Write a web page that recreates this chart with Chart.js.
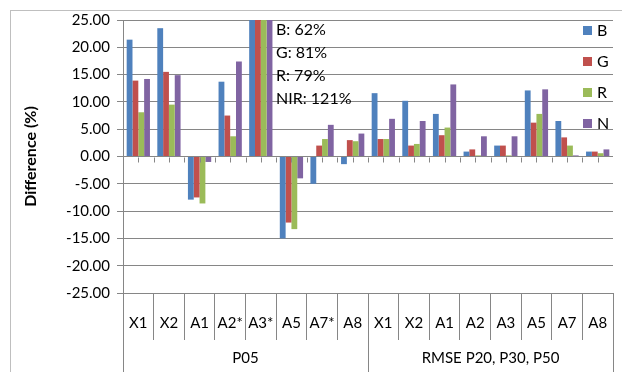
<!DOCTYPE html>
<html>
<head>
<meta charset="utf-8">
<script src="https://cdn.jsdelivr.net/npm/chart.js@4.4.1/dist/chart.umd.min.js"></script>
<style>
  body { margin: 0; background: #fff; }
  canvas { display: block; }
</style>
</head>
<body>
<canvas id="c" width="622" height="372"></canvas>
<script>
const categories = ['X1', 'X2', 'A1', 'A2*', 'A3*', 'A5', 'A7*', 'A8', 'X1', 'X2', 'A1', 'A2', 'A3', 'A5', 'A7', 'A8'];
const groups = ['P05', 'RMSE P20, P30, P50'];
const groupSize = 8;

const valuesB = [21.4, 23.5, -7.9, 13.7, 62, -15.0, -5.0, -1.4, 11.6, 10.2, 7.8, 0.9, 2.0, 12.1, 6.5, 0.9];
const valuesG = [13.9, 15.5, -7.5, 7.5, 81, -12.1, 2.0, 3.0, 3.2, 2.0, 3.9, 1.3, 2.0, 6.2, 3.5, 0.9];
const valuesR = [8.1, 9.5, -8.6, 3.7, 79, -13.3, 3.2, 2.8, 3.2, 2.3, 5.3, 0.2, 0.2, 7.8, 2.0, 0.6];
const valuesN = [14.2, 14.9, -1.0, 17.4, 121, -4.0, 5.8, 4.2, 6.9, 6.5, 13.2, 3.7, 3.7, 12.3, 0.2, 1.3];

const seriesNames = ['B', 'G', 'R', 'N'];
const seriesColors = ['#4F81BD', '#C0504D', '#9BBB59', '#8064A2'];
const noteLines = ['B: 62%', 'G: 81%', 'R: 79%', 'NIR: 121%'];

const yMin = -25, yMax = 25, yStep = 5;
const FONT = 'Lato, "Noto Sans", sans-serif';
const lineColor = '#868686';

// frame, two-level category labels, legend, note
const extras = {
  id: 'extras',
  beforeDraw(chart) {
    const ctx = chart.ctx;
    ctx.save();
    ctx.strokeStyle = '#BFBFBF';
    ctx.lineWidth = 1;
    ctx.strokeRect(10.5, 10.5, 700, 500);
    ctx.restore();
  },
  afterDraw(chart) {
    const ctx = chart.ctx;
    const x = chart.scales.x, y = chart.scales.y;
    const area = chart.chartArea;
    const half = (x.getPixelForValue(1) - x.getPixelForValue(0)) / 2;
    const y0 = Math.round(y.getPixelForValue(0)) + 0.5;

    ctx.save();
    ctx.strokeStyle = lineColor;
    ctx.lineWidth = 1;
    // little ticks under the zero line
    ctx.beginPath();
    for (let i = 0; i < categories.length; i++) {
      const c = x.getPixelForValue(i);
      [c - half, c].forEach(px => {
        const xx = Math.round(px) + 0.5;
        ctx.moveTo(xx, y0);
        ctx.lineTo(xx, y0 + 5);
      });
    }
    ctx.stroke();

    // long separators through group row
    ctx.beginPath();
    for (let g = 0; g <= groups.length; g++) {
      const idx = Math.min(g * groupSize, categories.length - 1);
      let px = x.getPixelForValue(idx) + (g * groupSize >= categories.length ? half : -half);
      px = Math.round(px) + 0.5;
      ctx.moveTo(px, area.bottom);
      ctx.lineTo(px, chart.height);
    }
    ctx.stroke();

    // category labels
    ctx.fillStyle = '#000';
    ctx.font = '15px ' + FONT;
    ctx.textAlign = 'center';
    ctx.textBaseline = 'middle';
    categories.forEach((c, i) => ctx.fillText(c, x.getPixelForValue(i), 323));

    // group labels
    groups.forEach((g, k) => {
      const a = x.getPixelForValue(k * groupSize) - half;
      const b = x.getPixelForValue(k * groupSize + groupSize - 1) + half;
      ctx.fillText(g, (a + b) / 2, 358);
    });

    // y title
    ctx.save();
    ctx.translate(31, (area.top + area.bottom) / 2);
    ctx.rotate(-Math.PI / 2);
    ctx.font = 'bold 16px ' + FONT;
    ctx.fillText('Difference (%)', 0, 0);
    ctx.restore();

    // note on the clipped bars
    ctx.textAlign = 'left';
    ctx.font = '16px ' + FONT;
    noteLines.forEach((t, i) => ctx.fillText(t, 276, 30 + i * 23));

    // legend
    ctx.font = '16px ' + FONT;
    seriesNames.forEach((n, i) => {
      const cy = 30 + i * 31;
      ctx.fillStyle = seriesColors[i];
      ctx.fillRect(583, cy - 4, 9, 9);
      ctx.fillStyle = '#000';
      ctx.fillText(n, 597, cy + 1);
    });
    ctx.restore();
  }
};

new Chart(document.getElementById('c'), {
  type: 'bar',
  data: {
    labels: categories,
    datasets: [valuesB, valuesG, valuesR, valuesN].map((d, i) => ({
      label: seriesNames[i],
      data: d,
      backgroundColor: seriesColors[i],
      borderWidth: 0,
      categoryPercentage: 0.76,
      barPercentage: 1.0
    }))
  },
  options: {
    responsive: false,
    animation: false,
    layout: { padding: { top: 20, right: 9, left: 0, bottom: 0 } },
    plugins: { legend: { display: false }, tooltip: { enabled: false } },
    scales: {
      x: {
        offset: true,
        ticks: { display: false },
        grid: { drawOnChartArea: false, offset: true, color: lineColor, tickLength: 47 },
        border: { color: lineColor },
        afterFit(s) { s.height = 79; }
      },
      y: {
        min: yMin,
        max: yMax,
        ticks: {
          stepSize: yStep,
          padding: 7,
          color: '#000',
          font: { family: FONT, size: 15 },
          callback: v => v.toFixed(2)
        },
        grid: { color: lineColor, tickLength: 6 },
        border: { color: lineColor },
        afterFit(s) { s.height = s.height; s.width = 123; }
      }
    }
  },
  plugins: [extras]
});
</script>
</body>
</html>
